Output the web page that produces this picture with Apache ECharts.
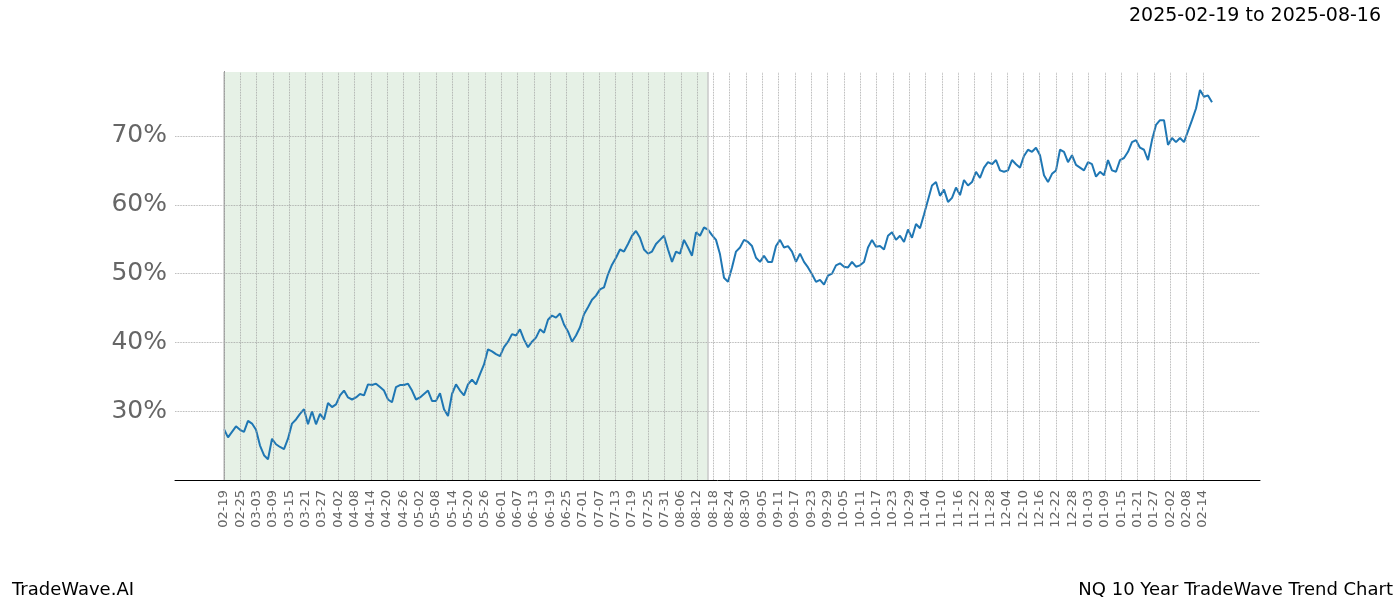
<!DOCTYPE html>
<html><head><meta charset="utf-8">
<script src="https://cdn.jsdelivr.net/npm/echarts@6/dist/echarts.min.js"></script>
<style>html,body{margin:0;padding:0;background:#fff}#c{width:1400px;height:600px}</style>
</head><body><div id="c"></div>
<script>
const startDate = '2025-02-19';
const trainEndDay = 178;
const tickDays = [];
for (let d = 0; d <= 360; d += 6) tickDays.push(d);
const yTicks = [30, 40, 50, 60, 70];
const values = [27.4,26.2,27,27.8,27.3,27,28.6,28.2,27.3,25,23.6,23,26,25.2,24.8,24.5,26,28.2,28.8,29.6,30.3,28.1,30,28.1,29.6,28.8,31.2,30.6,31,32.3,33,32,31.7,32,32.5,32.3,33.9,33.8,34,33.5,33,31.7,31.3,33.5,33.8,33.8,34,33,31.7,32,32.5,33,31.5,31.5,32.6,30.3,29.3,32.5,33.9,33,32.3,33.9,34.6,33.9,35.4,36.8,39,38.7,38.3,38,39.3,40.1,41.2,41,41.9,40.4,39.3,40.1,40.7,41.9,41.4,43.3,43.9,43.6,44.2,42.6,41.6,40.1,41,42.2,44.1,45.1,46.2,46.8,47.7,48,49.9,51.3,52.3,53.5,53.2,54.3,55.5,56.2,55.2,53.5,52.9,53.2,54.3,54.9,55.5,53.5,51.7,53.2,52.9,54.9,53.8,52.6,56,55.5,56.7,56.4,55.6,54.9,52.8,49.4,48.8,50.9,53.2,53.8,54.9,54.6,54,52.3,51.7,52.6,51.7,51.7,54,54.9,53.8,54,53.2,51.7,52.9,51.7,50.9,49.9,48.8,49.1,48.4,49.7,50,51.2,51.5,51,50.9,51.7,51,51.2,51.7,53.8,54.9,53.9,54,53.5,55.5,56,54.9,55.5,54.6,56.4,55.2,57.2,56.6,58.6,60.7,62.8,63.3,61.3,62.2,60.4,61,62.5,61.4,63.6,62.8,63.3,64.8,63.9,65.4,66.2,65.9,66.5,65,64.8,65,66.5,65.9,65.4,67.1,68,67.7,68.3,67.2,64.3,63.3,64.5,65,68,67.7,66.2,67.2,65.8,65.4,65,66.2,65.9,64.1,64.8,64.3,66.5,65,64.8,66.5,66.8,67.7,69.1,69.4,68.3,68,66.5,69.4,71.6,72.3,72.3,68.7,69.7,69.1,69.7,69.1,70.7,72.3,74,76.7,75.7,75.9,74.9];
function dayLabel(d){const t=new Date(startDate+'T00:00:00Z');t.setUTCDate(t.getUTCDate()+d);return String(t.getUTCMonth()+1).padStart(2,'0')+'-'+String(t.getUTCDate()).padStart(2,'0');}
const endLabel=(()=>{const t=new Date(startDate+'T00:00:00Z');t.setUTCDate(t.getUTCDate()+trainEndDay);return t.toISOString().slice(0,10);})();
const gridStyle={type:'dotted',color:'#999',width:0.8};
const chart = echarts.init(document.getElementById('c'));
chart.setOption({
  animation:false,
  grid:{left:175,right:140,top:72,bottom:120},
  title:[{text:startDate+' to '+endLabel,right:14,top:2,textStyle:{fontFamily:'DejaVu Sans',fontWeight:'normal',fontSize:19,color:'#000'}},
    {text:'TradeWave.AI',left:7,top:576,textStyle:{fontFamily:'DejaVu Sans',fontWeight:'normal',fontSize:18,color:'#000'}},
    {text:'NQ 10 Year TradeWave Trend Chart',right:2,top:576,textStyle:{fontFamily:'DejaVu Sans',fontWeight:'normal',fontSize:18,color:'#000'}}],
  xAxis:[{type:'value',min:-18,max:381,interval:6,
    axisLine:{onZero:false,lineStyle:{color:'#000'}},axisTick:{show:false},splitLine:{show:false},
    axisLabel:{rotate:90,margin:10,fontFamily:'DejaVu Sans',fontSize:13,color:'#666',showMinLabel:true,showMaxLabel:false,
      formatter:v=>(v>=0&&v<=360)?dayLabel(v):''}},
    {type:'value',min:-12.25,max:259,show:false}],
  yAxis:{type:'value',min:20,max:79.3,interval:10,
    axisLine:{show:true,lineStyle:{color:'#000'}},axisTick:{show:false},
    splitLine:{show:false},
    axisLabel:{fontFamily:'DejaVu Sans',fontSize:25,color:'#666',formatter:v=>(v>=25&&v<=75)?v+'%':''}},
  series:[
    {type:'line',xAxisIndex:0,data:[],silent:true,
      markLine:{silent:true,symbol:'none',label:{show:false},lineStyle:gridStyle,
        data:tickDays.map(d=>({xAxis:d})).concat(yTicks.map(v=>({yAxis:v})))
          .concat([0,trainEndDay].map(d=>({xAxis:d,lineStyle:{type:'solid',color:'#c8c8c8',width:1.5}})))},
      markArea:{silent:true,itemStyle:{color:'rgba(46,139,46,0.12)',borderWidth:0},
        data:[[{xAxis:0},{xAxis:trainEndDay}]]}},
    {type:'line',xAxisIndex:1,showSymbol:false,lineStyle:{color:'#1f77b4',width:2},itemStyle:{color:'#1f77b4'},
      data:values.map((v,i)=>[i,v])}
  ]
});
</script></body></html>
